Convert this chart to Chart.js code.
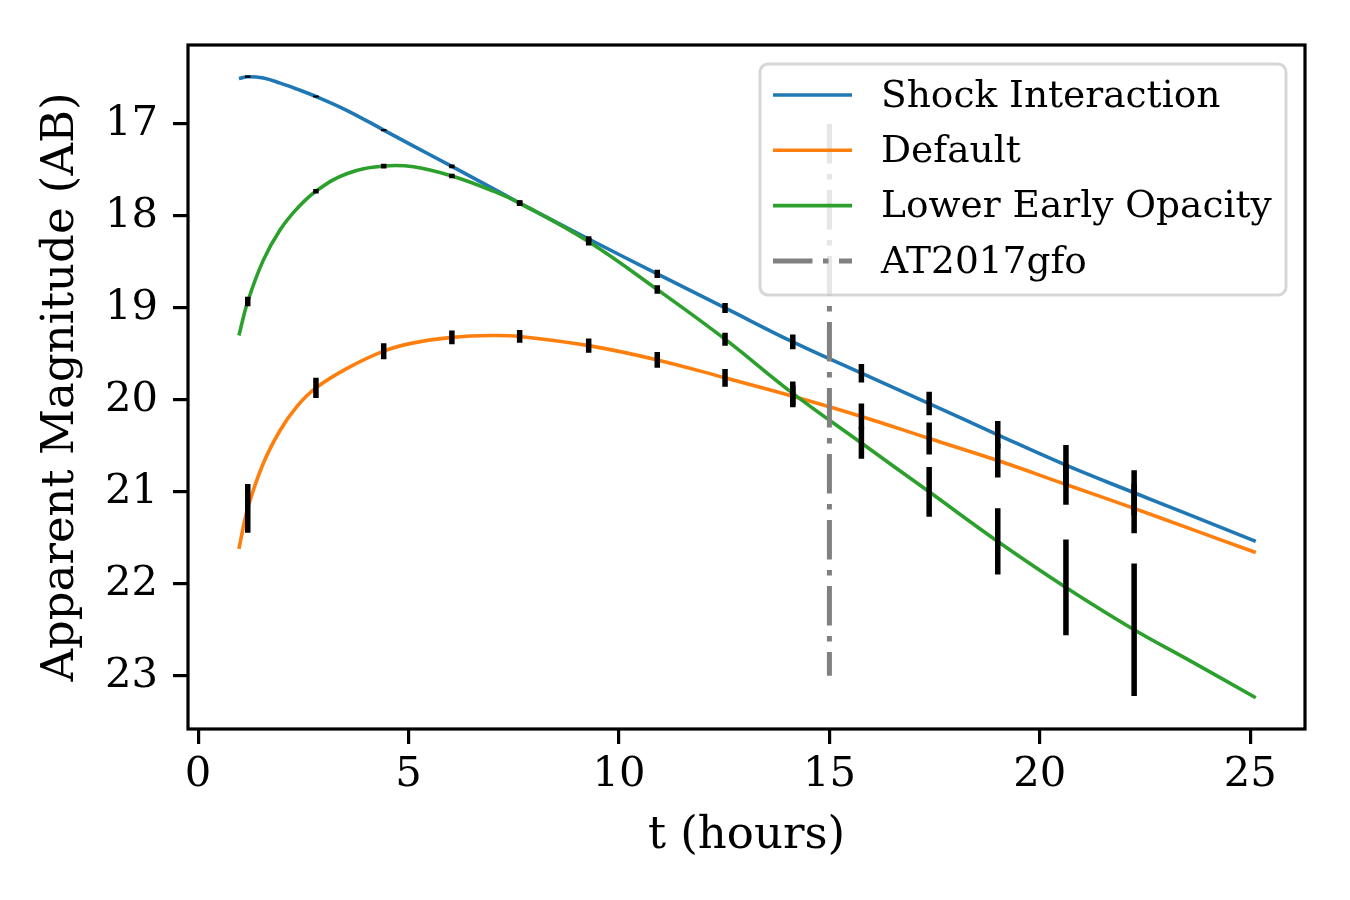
<!DOCTYPE html>
<html lang="en">
<head>
<meta charset="UTF-8">
<title>Light curves</title>
<script src="https://cdn.jsdelivr.net/npm/chart.js"></script>
<style>
    html, body { margin: 0; padding: 0; background: #fff; }
    #wrap { width: 1350px; height: 900px; }
</style>
</head>
<body>
<div id="wrap"><canvas id="lcCanvas" width="1350" height="900"></canvas></div>
<script>
// model curves (t in hours, AB magnitude)
const curveT = [0.97, 1.18, 1.55, 1.95, 2.35, 2.80, 3.53, 4.41, 5.12, 6.03, 7.02, 7.64, 9.28, 10.91, 12.52, 14.13, 15.76, 17.37, 19.0, 20.62, 22.24, 23.5, 25.13];
const shockMag   = [16.505, 16.485, 16.50, 16.555, 16.62, 16.70, 16.85, 17.065, 17.24, 17.46, 17.705, 17.86, 18.25, 18.63, 19.00, 19.37, 19.71, 20.04, 20.38, 20.71, 21.01, 21.24, 21.54];
const defaultMag = [21.62, 21.18, 20.69, 20.33, 20.07, 19.87, 19.66, 19.47, 19.38, 19.32, 19.30, 19.31, 19.41, 19.565, 19.76, 19.96, 20.18, 20.42, 20.66, 20.92, 21.18, 21.39, 21.66];
const lowOpMag   = [19.30, 18.93, 18.48, 18.15, 17.92, 17.73, 17.54, 17.457, 17.465, 17.565, 17.73, 17.86, 18.28, 18.80, 19.34, 19.93, 20.47, 21.00, 21.54, 22.04, 22.50, 22.82, 23.24];

// error bars
const errX = [1.18, 2.80, 4.41, 6.03, 7.64, 9.28, 10.91, 12.52, 14.13, 15.76, 17.37, 19.0, 20.62, 22.24];
const shockObs   = [16.485, 16.70, 17.065, 17.46, 17.86, 18.25, 18.63, 19.00, 19.37, 19.71, 20.04, 20.38, 20.71, 21.01];
const shockErr   = [0.012, 0.012, 0.012, 0.02, 0.028, 0.03, 0.045, 0.054, 0.08, 0.10, 0.127, 0.15, 0.22, 0.245];
const defaultObs = [21.18, 19.87, 19.47, 19.32, 19.31, 19.41, 19.565, 19.76, 19.96, 20.18, 20.42, 20.66, 20.92, 21.18];
const defaultErr = [0.265, 0.11, 0.087, 0.074, 0.069, 0.078, 0.085, 0.096, 0.12, 0.14, 0.174, 0.185, 0.22, 0.27];
const lowOpObs   = [18.93, 17.73, 17.457, 17.565, 17.86, 18.28, 18.80, 19.34, 19.93, 20.47, 21.00, 21.54, 22.04, 22.50];
const lowOpErr   = [0.053, 0.025, 0.025, 0.025, 0.03, 0.04, 0.047, 0.07, 0.13, 0.17, 0.27, 0.36, 0.52, 0.72];

// AT2017gfo marker
const gfoT = 15;
const gfoRange = [17, 23];

const xTicks = [0, 5, 10, 15, 20, 25];
const yTicks = [17, 18, 19, 20, 21, 22, 23];

const serif = "'DejaVu Serif', 'Liberation Serif', serif";

function toPoints(xs, ys) {
    return xs.map((x, i) => ({ x: x, y: ys[i] }));
}

// vertical segments separated by null gaps
function errorSegments(centers, errs) {
    const pts = [];
    errX.forEach((t, i) => {
        pts.push({ x: t, y: centers[i] - errs[i] });
        pts.push({ x: t, y: centers[i] + errs[i] });
        pts.push({ x: t, y: null });
    });
    return pts;
}

function curve(label, ys, color, order) {
    return {
        label: label, data: toPoints(curveT, ys), showLine: true,
        borderColor: color, backgroundColor: color, borderWidth: 3.6,
        tension: 0.4, pointRadius: 0, order: order, inLegend: true
    };
}

function errSet(centers, errs) {
    return {
        label: '', data: errorSegments(centers, errs), showLine: true, spanGaps: false,
        borderColor: '#000', borderWidth: 5.5, borderCapStyle: 'butt',
        pointRadius: 0, order: 0, inLegend: false
    };
}

const framePlugin = {
    id: 'frame',
    afterDatasetsDraw(chart) {
        const a = chart.chartArea, ctx = chart.ctx;
        ctx.save();
        ctx.strokeStyle = '#000';
        ctx.lineWidth = 3.2;
        ctx.strokeRect(a.left, a.top, a.right - a.left, a.bottom - a.top);
        ctx.restore();
    }
};

const legendPlugin = {
    id: 'boxLegend',
    afterDraw(chart) {
        const ctx = chart.ctx, a = chart.chartArea;
        const w = 526, h = 231;
        const left = a.right - 19 - w, top = a.top + 19;
        ctx.save();
        ctx.beginPath();
        ctx.roundRect(left, top, w, h, 8);
        ctx.fillStyle = 'rgba(255,255,255,0.8)';
        ctx.fill();
        ctx.lineWidth = 3;
        ctx.strokeStyle = 'rgba(204,204,204,0.8)';
        ctx.stroke();

        const items = chart.data.datasets.filter(d => d.inLegend);
        ctx.font = '37.5px ' + serif;
        ctx.textBaseline = 'middle';
        ctx.textAlign = 'left';
        items.forEach((d, i) => {
            const y = top + 31 + i * 55.3;
            ctx.beginPath();
            ctx.setLineDash(d.borderDash || []);
            ctx.lineWidth = d.borderWidth;
            ctx.strokeStyle = d.borderColor;
            ctx.lineCap = 'butt';
            ctx.moveTo(left + 13, y);
            ctx.lineTo(left + 92, y);
            ctx.stroke();
            ctx.setLineDash([]);
            ctx.fillStyle = '#000';
            ctx.fillText(d.label, left + 121, y + 2);
        });
        ctx.restore();
    }
};

const ctx = document.getElementById('lcCanvas').getContext('2d');
new Chart(ctx, {
    type: 'scatter',
    data: {
        datasets: [
            curve('Shock Interaction', shockMag, '#1f77b4', 5),
            curve('Default', defaultMag, '#ff7f0e', 4),
            curve('Lower Early Opacity', lowOpMag, '#2ca02c', 3),
            {
                label: 'AT2017gfo', data: gfoRange.map(m => ({ x: gfoT, y: m })), showLine: true,
                borderColor: '#808080', borderWidth: 5, borderDash: [39.5, 10.5, 5.5, 10.5],
                pointRadius: 0, order: 2, inLegend: true
            },
            errSet(shockObs, shockErr),
            errSet(defaultObs, defaultErr),
            errSet(lowOpObs, lowOpErr)
        ]
    },
    options: {
        responsive: false,
        animation: false,
        devicePixelRatio: 1,
        layout: { padding: { top: 45, right: 45, bottom: 0, left: 0 } },
        plugins: { legend: { display: false }, tooltip: { enabled: false } },
        scales: {
            x: {
                type: 'linear', min: -0.24, max: 26.3,
                afterFit: s => { s.height = 171; },
                afterBuildTicks: s => { s.ticks = xTicks.map(v => ({ value: v })); },
                border: { display: false },
                grid: { drawOnChartArea: false, drawTicks: true, tickLength: 15, lineWidth: 3.2, color: '#000' },
                ticks: { color: '#000', padding: 6, autoSkip: false, maxRotation: 0, font: { family: serif, size: 41.7 } },
                title: { display: true, text: 't (hours)', color: '#000', padding: { bottom: 37, top: 0 }, font: { family: serif, size: 45 } }
            },
            y: {
                type: 'linear', reverse: true, min: 16.14, max: 23.58,
                afterFit: s => { s.width = 188; },
                afterBuildTicks: s => { s.ticks = yTicks.map(v => ({ value: v })); },
                border: { display: false },
                grid: { drawOnChartArea: false, drawTicks: true, tickLength: 15, lineWidth: 3.2, color: '#000' },
                ticks: { color: '#000', padding: 15, autoSkip: false, font: { family: serif, size: 41.7 } },
                title: { display: true, text: 'Apparent Magnitude (AB)', color: '#000', padding: { top: 34, bottom: 0 }, font: { family: serif, size: 45 } }
            }
        }
    },
    plugins: [framePlugin, legendPlugin]
});
</script>
</body>
</html>
